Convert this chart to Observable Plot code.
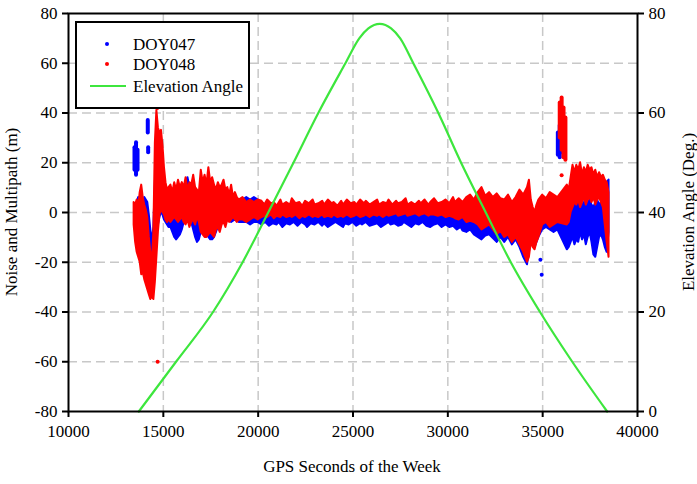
<!DOCTYPE html>
<html>
<head>
<meta charset="utf-8">
<script src="https://cdn.jsdelivr.net/npm/d3@7"></script>
<script src="https://cdn.jsdelivr.net/npm/@observablehq/plot@0.6"></script>
<style>
  html, body { margin: 0; padding: 0; background: #fff; }
  #chart { width: 697px; height: 484px; }
  #chart svg text { font-family: "Liberation Serif", "Tinos", "Times New Roman", "Nimbus Roman", "Nimbus Roman No9 L", "FreeSerif", "Noto Serif", "DejaVu Serif", Times, serif !important; }
</style>
</head>
<body>
<div id="chart"></div>
<script>
// Axis ticks
const xTicks = [10000, 15000, 20000, 25000, 30000, 35000, 40000];
const yTicks = [-80, -60, -40, -20, 0, 20, 40, 60, 80];
const elevTicks = [0, 20, 40, 60, 80];

// Series names
const seriesNames = ["DOY047", "DOY048", "Elevation Angle"];

// DOY047 noise + multipath band: [GPS seconds, low (m), high (m)]
const doy047 = [
  [13620,-13,4],[13700,-10,6],[13780,-18,3],[13860,-21,5],[13940,-24,2],[14020,-22,6],[14100,-15,5],
  [14180,-12,4],[14260,-18,-1],[14340,-24,-7],[14420,-28,-12],[14500,-26,-6],
  [14580,-20,12],[14660,-10,24],[14740,-5,16],[14820,-2,14],[14900,0,19],[14980,-1,21],[15060,-3,14],
  [15140,-4,10],[15220,-5,8],[15300,-6,6],[15400,-6,5],[15500,-8,4],[15600,-10,6],[15700,-11,5],
  [15800,-10,4],[15900,-9,5],[16000,-7,6],[16100,-4,8],[16200,-3,12],[16300,-2,14],[16400,-3,10],
  [16500,-4,8],[16600,-7,9],[16700,-10,6],[16800,-12,5],[16900,-11,4],[17000,-8,6],[17100,-5,8],
  [17200,-4,10],[17300,-8,8],[17400,-10,7],[17500,-11,6],[17600,-11,6],[17700,-10,8],[17800,-8,7],
  [17900,-6,6],[18000,-4,6],[18100,-3,7],[18200,-3,5],[18400,-3,6],[18600,-4,5],[18800,-3,6],
  [19000,-4,5],[19200,-4,5],[19400,-4,6],[19600,-5,5],[19800,-4,6],[20000,-4,5],
  [20200,-5,4],[20400,-4,3],[20600,-5.5,2],[20800,-4.5,2],[21000,-5,1],[21100,-4,1],[21300,-6,0],
  [21500,-4.5,1],[21700,-5,0],[21900,-4,1],[22100,-5.5,0],[22300,-4,1],[22500,-5,0],[22600,-6,0],
  [22800,-4.5,1],[23000,-5,0],[23200,-4,1],[23400,-5.5,0],[23500,-4.5,1],[23700,-6,0],[23900,-5,0],
  [24100,-4,1],[24300,-5,0],[24500,-6,0],[24600,-4.5,1],[24800,-5,0],[25000,-4,1],[25200,-5.5,0],
  [25400,-4.5,0],[25500,-5,1],[25700,-4,0],[25900,-5.5,0],[26100,-5,1],[26300,-4.5,0],[26500,-6,0],
  [26700,-5,1],[26900,-4,0],[27000,-5,0],[27200,-4.5,1],[27400,-5.5,0],[27600,-5,0],[27700,-4,1],
  [27900,-5,0],[28100,-6,0],[28300,-4.5,1],[28500,-5,0],[28700,-4,1],[28900,-5.5,0],[29100,-6,0],
  [29300,-5,1],[29500,-4.5,0],[29700,-6,0],[29900,-5,1],
  [30100,-6,0],[30300,-5.5,0],[30500,-7,0],[30700,-6,0],[30800,-7.5,0],[31000,-8,-1],[31200,-7,-1],
  [31400,-9,0],[31600,-10,0],[31800,-11,1],[32000,-9.5,0],[32200,-9,1],[32400,-10.5,0],[32600,-12,-1],
  [32800,-10,0],[33000,-12,-2],[33200,-10,0],[33400,-13,-2],[33600,-11,0],[33800,-14,0],[34000,-18,-2],
  [34200,-21,-4],[34300,-16,0],[34400,-12,-2],[34600,-14,-3],[34800,-10,0],[35000,-7,1],[35200,-6,0],
  [35400,-7,2],[35600,-8,0],[35800,-7,1],
  [36300,-15,7],[36400,-14,6],[36500,-12,5],[36600,-10,5],[36700,-13,3],[36800,-11,4],[36900,-12,5],
  [37000,-8,4],[37100,-11,3],[37200,-9,4],[37300,-13,5],[37400,-10,4],[37500,-8,5],[37600,-12,3],
  [37700,-17,2],[37800,-18,4],[37900,-14,5],[38000,-10,3],[38100,-9,4],[38200,-11,6],[38300,-14,8],
  [38400,-16,12],[38500,-8,13]
];
// DOY047 detached clusters: [GPS seconds, low (m), high (m)]
const doy047Clusters = [
  [13480,17,26],[13560,15,28],[13640,17,25],[14180,32,37],[14200,24,26],
  [35800,23,32],[35900,22,35],[36000,24,33],[36100,25,30]
];
// isolated DOY047 points: [GPS seconds, value (m)]
const doy047Outliers = [[34880,-19],[34950,-25]];

// DOY048 noise + multipath band: [GPS seconds, low (m), high (m)]
const doy048 = [
  [13460,-5,4],[13540,-12,3],[13620,-16,5],[13700,-18,2],[13780,-20,8],[13860,-25,11],[13940,-24,6],
  [14020,-27,3],[14100,-29,1],[14180,-31,-2],[14260,-33,-10],[14340,-35,-16],[14420,-34,-20],[14500,-35,-8],
  [14580,-28,28],[14660,-18,41],[14740,-8,34],[14820,-1,32],[14900,1,33],[14980,0,27],[15060,-1,18],
  [15140,-3,12],[15220,-4,9],[15300,-3,10],[15400,-4,11],[15500,-3,8],[15600,-2,12],[15700,-3,9],
  [15800,-4,13],[15900,-3,10],[16000,-2,12],[16100,-4,10],[16200,-5,14],[16300,-3,9],[16400,-6,12],
  [16500,-4,11],[16600,-3,15],[16700,-5,10],[16800,-2,9],[16900,-4,8],[17000,-8,17],[17100,-9,12],
  [17200,-10,15],[17300,-10,11],[17400,-9,18],[17500,-8,12],[17600,-9,14],[17700,-10,11],[17800,-7,9],
  [17900,-6,12],[18000,-8,10],[18100,-5,11],[18200,-4,13],[18300,-6,9],[18400,-3,10],[18500,-4,7],
  [18600,-3,11],[18700,-2,6],[18800,-3,8],[18900,-4,6],[19000,-3,5],[19200,-3,6],[19400,-4,4],
  [19600,-3,5],[19800,-2,4],[20000,-3,5],
  [20200,-2,4.5],[20350,-1.5,3],[20500,-2,5],[20700,-1,3.5],[20850,-2.5,4],[21000,-1.5,2.5],[21200,-2,5],
  [21300,-1,3],[21500,-2,4],[21700,-1.5,3],[21800,-2,5.5],[22000,-1,3.5],[22200,-2.5,4],[22350,-1.5,2.5],
  [22500,-2,4.5],[22700,-1,3.5],[22900,-2,5],[23000,-1.5,3],[23200,-2,3.5],[23400,-1,4.5],[23500,-2,3],
  [23700,-1.5,5],[23900,-2,3.5],[24000,-1,4],[24200,-2,2.5],[24400,-1.5,4.5],[24500,-2,3],[24700,-1,5],
  [24900,-2,3.5],[25100,-1.5,4],[25200,-1,3],[25400,-2,5],[25600,-1.5,3.5],[25700,-1,4.5],[25900,-2,3],
  [26100,-1,4],[26300,-1.5,5],[26400,-1,3],[26600,-2,4],[26800,-1,3.5],[26900,-1.5,5],[27100,-1,3],
  [27300,-0.5,4.5],[27400,-1.5,3.5],[27600,-1,4],[27800,-0.5,5.5],[27900,-1.5,3],[28100,-1,4],
  [28300,-0.5,3],[28500,-1.5,4.5],[28600,-1,3.5],[28800,-0.5,5],[29000,-1.5,3],[29100,-1,4],
  [29300,-1,5.5],[29500,-1.5,3.5],[29700,-1,4],[29900,-2,5],
  [30100,-1.5,3.5],[30300,-2,6],[30400,-2.5,4],[30600,-3,5.5],[30800,-2,4],[31000,-4,6],[31200,-3.5,7],
  [31400,-4,5],[31600,-5,8],[31800,-7,10],[32000,-6,6.5],[32200,-5,8],[32400,-7,6],[32600,-9,7.5],
  [32800,-7.5,5.5],[33000,-10,5],[33200,-9,7],[33400,-12,4],[33600,-10,6],[33800,-13,9],[34000,-16,7],
  [34200,-20,10],[34300,-18,13],[34400,-12,5],[34500,-14,2],[34600,-15,0],[34700,-12,3],[34800,-10,5],
  [35000,-5,7],[35200,-4,5.5],[35400,-6,8],[35600,-5,7],[35800,-4,6],
  [36300,-5,11],[36400,-4,9],[36500,0,14],[36600,2,19],[36700,4,16],[36800,3,19],[36900,5,17],
  [37000,2,20],[37100,4,15],[37200,6,18],[37300,3,16],[37400,5,19],[37500,6,17],[37600,4,18],
  [37700,6,15],[37800,3,17],[37900,5,14],[38000,6,16],[38100,4,14],[38200,2,15],[38300,-5,13],
  [38400,-12,12],[38500,-18,8]
];
// DOY048 detached cluster: [GPS seconds, low (m), high (m)]
const doy048Clusters = [[35900,30,44],[36000,25,46],[36100,22,42],[36200,21,38]];
// isolated DOY048 points: [GPS seconds, value (m)]
const doy048Outliers = [[14700,-60],[14680,42],[36000,15]];

// Satellite elevation angle: [GPS seconds, degrees]
const elevation = [
  [13707,0],[15670,10],[17620,20],[19180,30],[20530,40],[21860,50],[23170,60],[24600,70],
  [25330,75],[25810,77],[26413,77.9],[27010,77],[27490,75],[28180,70],[29500,60],[30700,50],
  [32000,40],[33320,30],[34860,20],[36560,10],[38400,0]
];

const BLUE = "#0000ff", RED = "#ff0000", GREEN = "#3de63d";
const FONT = '"Liberation Serif", "Tinos", "Times New Roman", "Nimbus Roman", "FreeSerif", "Noto Serif", "DejaVu Serif", Times, serif';
const FS = 17;

// elevation degrees (0..80) sit on the noise scale (-80..80)
const elevToY = e => e * 2 - 80;

const band = (data, color) => Plot.areaY(data, {
  x: d => d[0], y1: d => d[1], y2: d => d[2],
  fill: color, stroke: color, strokeWidth: 2, strokeLinejoin: "round"
});
const clusters = (data, color) => Plot.ruleX(data, {
  x: d => d[0], y1: d => d[1], y2: d => d[2],
  stroke: color, strokeWidth: 4, strokeLinecap: "round"
});

const chart = Plot.plot({
  width: 697,
  height: 484,
  marginLeft: 68,
  marginRight: 60,
  marginTop: 13,
  marginBottom: 73,
  style: { fontFamily: FONT, fontSize: FS + "px", background: "#fff", color: "#000" },
  x: { domain: [10000, 40000] },
  y: { domain: [-80, 80] },
  marks: [
    Plot.gridX(xTicks.slice(1, -1), { stroke: "#c8c8c8", strokeOpacity: 1, strokeWidth: 1.5, strokeDasharray: "9,5" }),
    Plot.gridY(yTicks.slice(1, -1), { stroke: "#c8c8c8", strokeOpacity: 1, strokeWidth: 1.5, strokeDasharray: "9,5" }),
    band(doy047, BLUE),
    clusters(doy047Clusters, BLUE),
    Plot.dot(doy047Outliers, { x: d => d[0], y: d => d[1], r: 2, fill: BLUE }),
    band(doy048, RED),
    clusters(doy048Clusters, RED),
    Plot.dot(doy048Outliers, { x: d => d[0], y: d => d[1], r: 2, fill: RED }),
    Plot.line(elevation, { x: d => d[0], y: d => elevToY(d[1]), stroke: GREEN, strokeWidth: 2.2, curve: "monotone-x" }),
    Plot.frame({ stroke: "#000", strokeWidth: 2 }),
    Plot.axisX(xTicks, { tickSize: 6, tickPadding: 7, strokeWidth: 2, tickFormat: d => String(d), label: null, fontSize: FS }),
    Plot.axisY(yTicks, { anchor: "left", tickSize: 6, tickPadding: 5, strokeWidth: 2, tickFormat: d => String(d), label: null, fontSize: FS }),
    Plot.axisY(elevTicks.map(elevToY), { anchor: "right", tickSize: 6, tickPadding: 5, strokeWidth: 2, tickFormat: d => String((d + 80) / 2), label: null, fontSize: FS })
  ]
});

document.getElementById("chart").appendChild(chart);

// axis titles and legend
const svg = d3.select(chart);
const addText = (sel) => sel.attr("font-family", FONT).attr("font-size", FS);

addText(svg.append("text"))
  .attr("x", 352).attr("y", 472)
  .attr("text-anchor", "middle")
  .text("GPS Seconds of the Week");
addText(svg.append("text"))
  .attr("transform", "translate(17,212) rotate(-90)")
  .attr("text-anchor", "middle")
  .text("Noise and Multipath (m)");
addText(svg.append("text"))
  .attr("transform", "translate(694,212) rotate(-90)")
  .attr("text-anchor", "middle")
  .text("Elevation Angle (Deg.)");

const legend = svg.append("g").attr("text-anchor", "start");
legend.append("rect")
  .attr("x", 76).attr("y", 22).attr("width", 173).attr("height", 86)
  .attr("fill", "#fff").attr("stroke", "#000").attr("stroke-width", 2);
const rows = [
  { y: 44, color: BLUE, kind: "dot" },
  { y: 64, color: RED, kind: "dot" },
  { y: 86, color: GREEN, kind: "line" }
];
rows.forEach((r, i) => {
  if (r.kind === "dot") {
    legend.append("circle").attr("cx", 107).attr("cy", r.y).attr("r", 2).attr("fill", r.color);
  } else {
    legend.append("line").attr("x1", 90).attr("x2", 126).attr("y1", r.y).attr("y2", r.y)
      .attr("stroke", r.color).attr("stroke-width", 2.2);
  }
  addText(legend.append("text"))
    .attr("x", 133).attr("y", r.y).attr("dy", "0.35em")
    .attr("text-anchor", "start")
    .text(seriesNames[i]);
});
</script>
</body>
</html>
